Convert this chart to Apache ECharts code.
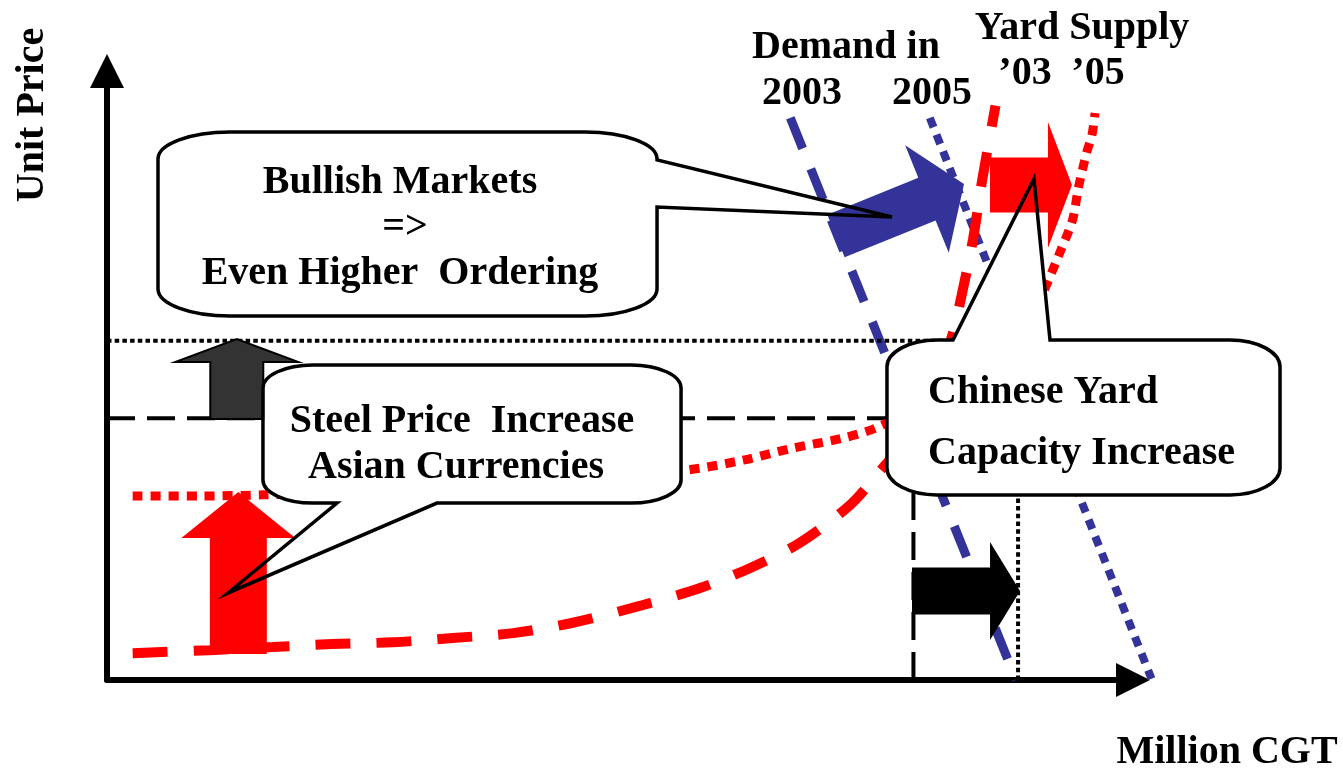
<!DOCTYPE html>
<html><head><meta charset="utf-8">
<script src="https://cdn.jsdelivr.net/npm/echarts@6/dist/echarts.min.js"></script>
<style>html,body{margin:0;padding:0;background:#fff}#c{width:1343px;height:771px}</style>
</head><body><div id="c"></div>
<script>
// ---------- data (x: Million CGT, y: Unit Price, arbitrary 0-100 units) ----------
const supply2003 = [[2.5,4.4],[10.0,4.9],[16.1,5.4],[21.9,5.9],[27.9,6.2],[33.7,6.9],[39.6,7.7],[45.4,9.4],[52.0,12.2],[57.8,15.1],[62.7,18.4],[67.5,22.5],[72.4,28.7],[75.3,34.2],[77.8,39.4],[79.7,45.2],[81.2,50.9],[82.4,56.7],[83.3,63.2],[84.4,72.3],[85.3,82.1],[86.6,94.3]];
const supply2005 = [[2.5,30.2],[9.1,30.2],[15.2,30.4],[28.6,30.9],[43.2,32.2],[56.6,34.5],[62.0,36.1],[66.9,38.1],[71.7,39.7],[75.1,41.5],[82.2,47.6],[88.0,55.8],[90.9,62.4],[91.6,65.0],[92.9,70.3],[94.1,75.5],[94.7,81.0],[95.5,86.7],[96.0,89.5],[96.3,93.1]];
const demand2003 = [[66.6,92.3],[88.6,0]];
const demand2005 = [[80.2,92.3],[101.8,0.2]];
const price2005Level = [[0,55.7],[82.5,55.7]];
const price2003Level = [[0,43.0],[76.0,43.0]];
const volume2003Level = [[78.6,0],[78.6,30.7]];
const volume2005Level = [[88.8,0],[88.8,30.0]];
// block arrows: [tailX, tailY, tipX, tipY]
const demandShift = [71.05,72.91,83.53,81.44];
const supplyShift = [86.06,81.3,94.05,81.3];
const capacityShift = [78.46,14.6,88.99,14.6];
const priceRise2005 = [12.65,42.86,12.65,55.99];
const costRise = [12.8,4.27,12.8,30.87];
// callouts: [left, top, right, bottom, tailA, tailB, tipX, tipY]
const bullishCallout = [4.97,89.98,53.61,59.77,85.39,77.67,76.51,76.03];
const steelCallout = [15.20,51.72,55.95,29.06,22.42,32.16,11.79,14.29];
const chineseCallout = [76.02,55.83,114.33,30.38,82.46,91.91,90.35,82.27];
// texts
const bullishLines = ['Bullish Markets','=>','Even Higher  Ordering'];
const steelLines = ['Steel Price  Increase','Asian Currencies'];
const chineseLines = ['Chinese Yard','Capacity Increase'];
const demandLabels = ['Demand in','2003','2005'];
const supplyLabels = ['Yard Supply','\u201903','\u201905'];
const axisNames = ['Unit Price','Million CGT'];

// ---------- rendering ----------
const RED = '#ff0000', BLUE = '#333399';
const FONT = 'bold 40px "Liberation Serif", "Times New Roman", serif';
const chart = echarts.init(document.getElementById('c'), null, {renderer:'canvas'});

function lineSeries(data, color, width, dash) {
  return {type:'line', data, symbol:'none', clip:false, z:1, silent:true, animation:false,
    lineStyle:{color, width, type:dash, cap:'butt'}};
}
function smoothSeries(data, color, width, dash) {
  const s = lineSeries(data, color, width, dash); s.smooth = 0.3; return s;
}
// straight polyline drawn through the axes' scales, never clipped at the grid edge
function straightSeries(data, color, width, dash) {
  return {type:'custom', z:1, clip:false, silent:true, animation:false, data,
    renderItem(params, api){
      if (params.dataIndexInside !== 0) return;
      const pts = data.map(p => api.coord(p));
      return {type:'polyline', shape:{points:pts},
        style:{stroke:color, lineWidth:width, lineDash:dash, lineCap:'butt', fill:null}};
    }};
}
function arrowSeries(val, sw, hw, hl, fill, stroke, lw) {
  return {type:'custom', z:3, clip:false, silent:true, animation:false, data:[val],
    renderItem(params, api){
      const p0 = api.coord([api.value(0), api.value(1)]);
      const p1 = api.coord([api.value(2), api.value(3)]);
      const dx = p1[0]-p0[0], dy = p1[1]-p0[1], len = Math.hypot(dx,dy);
      const ux = dx/len, uy = dy/len, nx = -uy, ny = ux, hb = len-hl;
      const P = (a,b)=>[p0[0]+ux*a+nx*b, p0[1]+uy*a+ny*b];
      return {type:'polygon', shape:{points:[P(0,sw),P(hb,sw),P(hb,hw),P(len,0),P(hb,-hw),P(hb,-sw),P(0,-sw)]},
        style:{fill, stroke: stroke||null, lineWidth: lw||0, lineJoin:'miter'}};
    }};
}
function calloutPath(api, edge, rx, ry) {
  const v = i => api.value(i);
  const tl = api.coord([v(0), v(1)]), br = api.coord([v(2), v(3)]);
  const L = tl[0], T = tl[1], R = br[0], B = br[1];
  const tip = api.coord([v(6), v(7)]);
  let a, b;
  if (edge === 'right') { a = api.coord([0, v(4)])[1]; b = api.coord([0, v(5)])[1]; }
  else { a = api.coord([v(4), 0])[0]; b = api.coord([v(5), 0])[0]; }
  const k = 0.5523;
  let d = `M ${L} ${T+ry} C ${L} ${T+ry*(1-k)} ${L+rx*(1-k)} ${T} ${L+rx} ${T} `;
  if (edge === 'top') d += `L ${a} ${T} L ${tip[0]} ${tip[1]} L ${b} ${T} `;
  d += `L ${R-rx} ${T} C ${R-rx*(1-k)} ${T} ${R} ${T+ry*(1-k)} ${R} ${T+ry} `;
  if (edge === 'right') d += `L ${R} ${a} L ${tip[0]} ${tip[1]} L ${R} ${b} `;
  d += `L ${R} ${B-ry} C ${R} ${B-ry*(1-k)} ${R-rx*(1-k)} ${B} ${R-rx} ${B} `;
  if (edge === 'bottom') d += `L ${b} ${B} L ${tip[0]} ${tip[1]} L ${a} ${B} `;
  d += `L ${L+rx} ${B} C ${L+rx*(1-k)} ${B} ${L} ${B-ry*(1-k)} ${L} ${B-ry} Z`;
  return d;
}
function calloutSeries(val, edge, rx, ry, outline) {
  return {type:'custom', z: outline?4:2, clip:false, silent:true, animation:false, data:[val],
    renderItem(params, api){
      return {type:'path', shape:{pathData: calloutPath(api, edge, rx, ry)},
        style: outline ? {fill:'none', stroke:'#000', lineWidth:3.5, lineJoin:'miter'} : {fill:'#fff', stroke:null}};
    }};
}
function txt(text, x, y, align, opts) {
  return Object.assign({type:'text', x, y: y+3, z:100, silent:true,
    style:{text, font:FONT, fill:'#000', align: align||'center', verticalAlign:'middle'}}, opts||{});
}

const series = [
  lineSeries(price2005Level, '#000', 4, [4.5,3.2]),
  lineSeries(price2003Level, '#000', 4, [28,12]),
  lineSeries(volume2003Level, '#000', 4, [28,12]),
  lineSeries(volume2005Level, '#000', 4, [4.5,3.2]),
  smoothSeries(supply2003, RED, 10, [35,26]),
  smoothSeries(supply2005, RED, 9, [10,8]),
  straightSeries(demand2003, BLUE, 9, [33,22]),
  straightSeries(demand2005, BLUE, 8, [10,8]),
  calloutSeries(bullishCallout, 'right', 72, 27, false),
  calloutSeries(steelCallout, 'bottom', 50, 23, false),
  calloutSeries(chineseCallout, 'top', 50, 27, false),
  arrowSeries(demandShift, 23, 58, 40, BLUE),
  arrowSeries(supplyShift, 27.5, 63, 24, RED),
  arrowSeries(capacityShift, 23.5, 49, 30, '#000'),
  arrowSeries(priceRise2005, 26.5, 61.5, 23, '#333333', '#000', 2),
  arrowSeries(costRise, 28.5, 57, 46, RED),
  calloutSeries(bullishCallout, 'right', 72, 27, true),
  calloutSeries(steelCallout, 'bottom', 50, 23, true),
  calloutSeries(chineseCallout, 'top', 50, 27, true)
];

const graphics = [
  txt(axisNames[0], 33, 112, 'center', {rotation: Math.PI/2}),
  txt(axisNames[1], 1227, 750),
  txt(demandLabels[0], 846, 45),
  txt(demandLabels[1], 802, 91),
  txt(demandLabels[2], 932, 91),
  txt(supplyLabels[0], 1082, 26),
  txt(supplyLabels[1], 1025, 71),
  txt(supplyLabels[2], 1098, 71),
  txt(bullishLines[0], 400, 180),
  txt(bullishLines[1], 405, 225),
  txt(bullishLines[2], 400, 271),
  txt(steelLines[0], 462, 419),
  txt(steelLines[1], 456, 465),
  txt(chineseLines[0], 928, 390, 'left'),
  txt(chineseLines[1], 928, 451, 'left')
];

const axisCommon = {type:'value', min:0, max:100,
  axisLine:{show:true, onZero:true, symbol:['none','triangle'], symbolSize:[34,34], lineStyle:{color:'#000', width:6}},
  axisTick:{show:false}, axisLabel:{show:false}, splitLine:{show:false}};

chart.setOption({
  animation:false,
  backgroundColor:'#fff',
  grid:{left:107, right:210, top:71, bottom:91, containLabel:false},
  xAxis: Object.assign({}, axisCommon),
  yAxis: Object.assign({}, axisCommon),
  series,
  graphic: graphics
});
</script>
</body></html>
